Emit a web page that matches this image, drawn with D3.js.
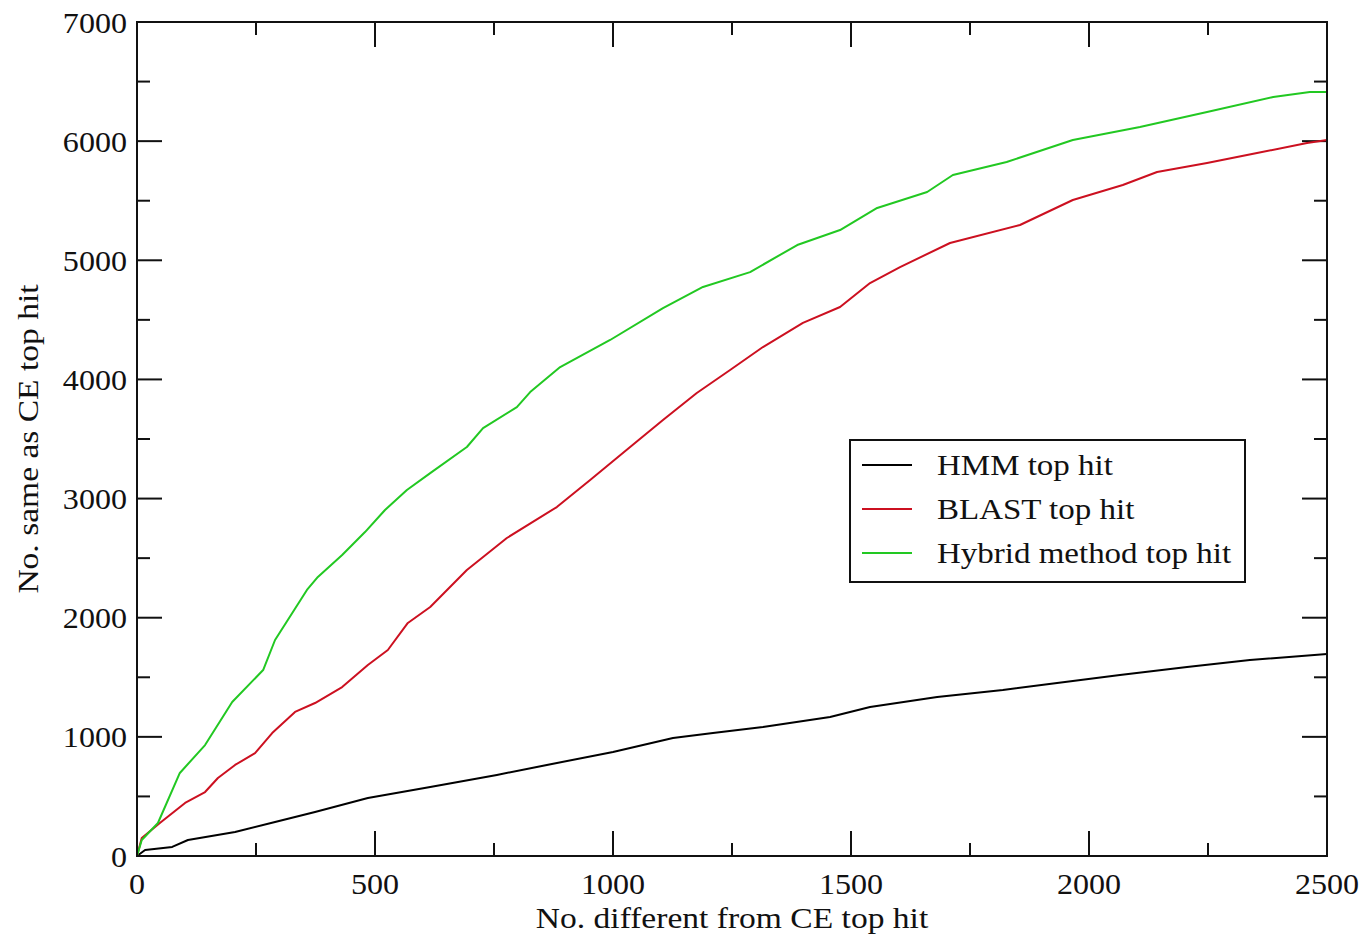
<!DOCTYPE html>
<html>
<head>
<meta charset="utf-8">
<script src="https://cdn.jsdelivr.net/npm/d3@7"></script>
<style>
  body { margin: 0; background: #fff; }
  text { font-family: "Liberation Serif", "Times New Roman", serif; fill: #111; }
</style>
</head>
<body>
<div id="chart"></div>
<script>
// values (x = No. different, y = No. same)
const hmmX = [0, 17, 74, 107, 206, 290, 374, 485, 616, 756, 861, 1000, 1126, 1210, 1315, 1456, 1540, 1681, 1819, 1933, 2065, 2206, 2338, 2500]
const hmmY = [0, 50, 76, 134, 201, 285, 369, 487, 579, 680, 764, 873, 990, 1032, 1083, 1167, 1250, 1334, 1393, 1452, 1519, 1586, 1645, 1695]

const blastX = [0, 10, 48, 101, 143, 170, 206, 248, 284, 332, 374, 431, 485, 527, 569, 616, 693, 777, 882, 952, 1036, 1105, 1176, 1246, 1315, 1399, 1477, 1540, 1603, 1708, 1855, 1966, 2071, 2143, 2248, 2353, 2458, 2500]
const blastY = [0, 151, 277, 445, 537, 655, 764, 864, 1032, 1209, 1284, 1418, 1603, 1729, 1956, 2090, 2400, 2669, 2929, 3156, 3433, 3659, 3886, 4079, 4272, 4474, 4608, 4809, 4943, 5145, 5296, 5506, 5632, 5741, 5816, 5900, 5984, 6009]

const hybridX = [0, 10, 44, 90, 143, 200, 265, 290, 357, 380, 431, 479, 521, 567, 616, 693, 727, 798, 826, 889, 994, 1105, 1189, 1288, 1387, 1477, 1555, 1660, 1714, 1827, 1966, 2107, 2248, 2387, 2464, 2500]
const hybridY = [0, 134, 277, 697, 931, 1292, 1561, 1813, 2233, 2342, 2526, 2719, 2904, 3072, 3214, 3433, 3592, 3768, 3894, 4104, 4331, 4599, 4776, 4901, 5128, 5254, 5439, 5573, 5716, 5825, 6009, 6118, 6244, 6370, 6412, 6412]

const seriesNames = ['HMM top hit', 'BLAST top hit', 'Hybrid method top hit']
const seriesColors = ['#000000', '#cc1020', '#22c822']
const xTicks = [0, 500, 1000, 1500, 2000, 2500]
const yTicks = [0, 1000, 2000, 3000, 4000, 5000, 6000, 7000]

const width = 1368
const height = 938
const margin = { left: 137, right: 41, top: 22, bottom: 82 }

const svg = d3.select('#chart').append('svg').attr('width', width).attr('height', height)

const x = d3.scaleLinear().domain([0, 2500]).range([margin.left, width - margin.right])
const y = d3.scaleLinear().domain([0, 7000]).range([height - margin.bottom, margin.top])

// 次刻度
const xMinor = d3.range(250, 2500, 500)
const yMinor = d3.range(500, 7000, 1000)

// the original text is a bit wider than the font, stretch it horizontally
function label (g, tx, ty, str, size, anchor, sx, rot) {
  return g.append('text')
    .attr('transform', 'translate(' + tx + ',' + ty + ')' + (rot ? ' rotate(' + rot + ')' : '') + ' scale(' + sx + ',1)')
    .attr('text-anchor', anchor).attr('font-size', size)
    .text(str)
}

// inward ticks on all four sides
const ticksG = svg.append('g').attr('stroke', '#111').attr('stroke-width', 2)
function vTicks (vals, len) {
  vals.forEach(v => {
    ticksG.append('line').attr('x1', x(v)).attr('x2', x(v)).attr('y1', y(0)).attr('y2', y(0) - len)
    ticksG.append('line').attr('x1', x(v)).attr('x2', x(v)).attr('y1', y(7000)).attr('y2', y(7000) + len)
  })
}
function hTicks (vals, len) {
  vals.forEach(v => {
    ticksG.append('line').attr('y1', y(v)).attr('y2', y(v)).attr('x1', x(0)).attr('x2', x(0) + len)
    ticksG.append('line').attr('y1', y(v)).attr('y2', y(v)).attr('x1', x(2500)).attr('x2', x(2500) - len)
  })
}
vTicks(xTicks, 25)
vTicks(xMinor, 13)
hTicks(yTicks, 25)
hTicks(yMinor, 13)

// tick labels
const tl = svg.append('g')
xTicks.forEach(d => label(tl, x(d), y(0) + 38, d, 30, 'middle', 1.07))
yTicks.forEach(d => label(tl, x(0) - 10, y(d) + 10.5, d, 30, 'end', 1.07))

// axis titles
label(svg, (x(0) + x(2500)) / 2, 928, 'No. different from CE top hit', 30.5, 'middle', 1.1)
label(svg, 38, (y(0) + y(7000)) / 2, 'No. same as CE top hit', 30.5, 'middle', 1.1, -90)

// curves
const line = d3.line().x(d => x(d[0])).y(d => y(d[1]))
const allSeries = [
  d3.zip(hmmX, hmmY),
  d3.zip(blastX, blastY),
  d3.zip(hybridX, hybridY)
]
const curveG = svg.append('g')
allSeries.forEach((pts, i) => {
  curveG.append('path').datum(pts)
    .attr('fill', 'none').attr('stroke', seriesColors[i]).attr('stroke-width', 2)
    .attr('stroke-linejoin', 'round')
    .attr('d', line)
})

// frame
svg.append('rect')
  .attr('x', x(0)).attr('y', y(7000))
  .attr('width', x(2500) - x(0)).attr('height', y(0) - y(7000))
  .attr('fill', 'none').attr('stroke', '#111').attr('stroke-width', 2)

// legend
const lg = svg.append('g').attr('transform', 'translate(850,440)')
lg.append('rect').attr('width', 395).attr('height', 142)
  .attr('fill', '#fff').attr('stroke', '#111').attr('stroke-width', 2)
seriesNames.forEach((name, i) => {
  const ly = 25 + i * 44
  lg.append('line').attr('x1', 12).attr('x2', 62).attr('y1', ly).attr('y2', ly)
    .attr('stroke', seriesColors[i]).attr('stroke-width', 2)
  label(lg, 87, ly + 10, name, 30, 'start', 1.1)
})
</script>
</body>
</html>
